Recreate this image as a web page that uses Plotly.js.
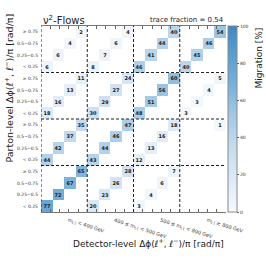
<!DOCTYPE html>
<html><head><meta charset="utf-8">
<script src="https://cdn.plot.ly/plotly-3.0.1.min.js"></script>
<style>html,body{margin:0;padding:0;background:#fff}#chart{width:266px;height:266px}</style>
</head><body><div id="chart"></div>
<script>
// Mass bins (blocks) and Δφ/π bins (within each block)
const massBins = ["m<sub>t t\u0304</sub> < 400 GeV", "400 ≤ m<sub>t t\u0304</sub> < 500 GeV", "500 ≤ m<sub>t t\u0304</sub> < 800 GeV", "m<sub>t t\u0304</sub> ≥ 800 GeV"];
const dphiBins = ["< 0.25", "0.25−0.5", "0.5−0.75", "≥ 0.75"];

// Migration [%]: parton-level mass block -> detector-level mass block -> Δφ bin (diagonal in Δφ)
const migPartonM400 = [[77, 72, 67, 65], [20, 23, 26, 28], [3, 4, 6, 7], [0, 0, 0, 0]];
const migPartonM400_500 = [[44, 42, 37, 35], [43, 44, 46, 47], [12, 13, 16, 18], [0, 0, 0, 1]];
const migPartonM500_800 = [[18, 16, 13, 11], [30, 29, 27, 24], [48, 51, 56, 60], [3, 3, 4, 5]];
const migPartonM800 = [[6, 6, 4, 2], [8, 7, 6, 4], [46, 41, 44, 40], [40, 45, 46, 54]];
const traceFraction = 0.54;

const mig = [migPartonM400, migPartonM400_500, migPartonM500_800, migPartonM800];
const nM = massBins.length, nD = dphiBins.length, N = nM * nD;
const z = [], txt = [];
for (let r = 0; r < N; r++) { z.push(new Array(N).fill(null)); txt.push(new Array(N).fill("")); }
for (let pm = 0; pm < nM; pm++) {
  for (let dm = 0; dm < nM; dm++) {
    for (let d = 0; d < nD; d++) {
      const v = mig[pm][dm][d];
      if (v > 0) {
        z[pm * nD + d][dm * nD + d] = v;
        txt[pm * nD + d][dm * nD + d] = String(v);
      }
    }
  }
}
const idx = Array.from({length: N}, (_, i) => i);
const yTickText = idx.map(i => dphiBins[i % nD]);

const colorscale = [
  [0.0, "#f5f9fd"], [0.17, "#deebf7"], [0.35, "#c6dbef"], [0.52, "#a2c9e4"],
  [0.7, "#74afd9"], [0.87, "#559cd0"], [1.0, "#3f86c2"]
];

const minorTicks = [];
for (let b = 0; b < nM; b++) for (let k = 1; k <= 4; k++) minorTicks.push(-0.5 + b * nD + 0.8 * k);

const dashLine = {color: "#222", width: 1, dash: "3px,2px"};
const shapes = [];
for (let b = 0; b < nM; b++) {
  const p = -0.5 + b * nD;
  shapes.push({type: "line", xref: "x", yref: "paper", x0: p, x1: p, y0: 0, y1: 1, line: dashLine});
  if (b > 0) shapes.push({type: "line", xref: "paper", yref: "y", x0: 0, x1: 1, y0: p, y1: p, line: dashLine});
}

const annotations = [
  {text: "ν<sup>2</sup>-Flows", xref: "paper", yref: "paper", x: 0, y: 1.032, xanchor: "left", yanchor: "middle", showarrow: false, font: {size: 10, color: "#222"}},
  {text: "trace fraction = " + traceFraction.toFixed(2), xref: "paper", yref: "paper", x: 1, y: 1.032, xanchor: "right", yanchor: "middle", showarrow: false, font: {size: 7, color: "#222"}},
  {text: "Detector-level Δϕ(ℓ<sup>+</sup>, ℓ<sup>−</sup>)/π [rad/π]", xref: "paper", yref: "paper", x: 1, y: -0.167, xanchor: "right", yanchor: "middle", showarrow: false, font: {size: 9, color: "#222"}},
  {text: "Parton-level Δϕ(ℓ<sup>+</sup>, ℓ<sup>−</sup>)/π [rad/π]", xref: "paper", yref: "paper", x: -0.178, y: 1.075, xanchor: "center", yanchor: "top", textangle: -90, showarrow: false, font: {size: 9.5, color: "#222"}},
  {text: "Migration [%]", xref: "paper", yref: "paper", x: 1.173, y: 1.0, xanchor: "center", yanchor: "top", textangle: -90, showarrow: false, font: {size: 9, color: "#222"}}
];
massBins.forEach((m, b) => annotations.push({
  text: m, xref: "x", yref: "paper", x: b * nD + 1.5, y: -0.011, xanchor: "left", yanchor: "top",
  textangle: 18, showarrow: false, font: {size: 5, color: "#333"}
}));

const trace = {
  type: "heatmap", x: idx, y: idx, z: z, text: txt, texttemplate: "%{text}",
  textfont: {size: 5, color: "#1a1a1a", weight: "bold"},
  zmin: 0, zmax: 100, colorscale: colorscale, hoverongaps: false,
  colorbar: {x: 1.011, xanchor: "left", xpad: 0, ypad: 0, thickness: 9, len: 1, y: 0.5, yanchor: "middle",
    outlinecolor: "#888", outlinewidth: 1, tickvals: [0, 20, 40, 60, 80, 100], ticks: "outside", ticklen: 2,
    tickcolor: "#555", tickfont: {size: 4.5, color: "#333"}}
};

const layout = {
  width: 266, height: 266, margin: {l: 41, r: 40, t: 26, b: 54},
  paper_bgcolor: "#fff", plot_bgcolor: "#fff", showlegend: false,
  xaxis: {range: [-0.5, N - 0.5], tickvals: minorTicks, ticks: "inside", ticklen: 3, tickcolor: "#666",
    showticklabels: false, showgrid: false, zeroline: false, showline: true, linecolor: "#777", linewidth: 1, mirror: "allticks"},
  yaxis: {range: [-0.5, N - 0.5], tickvals: idx, ticktext: yTickText, ticks: "", showgrid: false, zeroline: false,
    showline: false, tickfont: {size: 4.5, color: "#333"}, ticklabelstandoff: 2},
  shapes: shapes, annotations: annotations,
  font: {family: "DejaVu Sans, sans-serif"}
};

Plotly.newPlot("chart", [trace], layout, {displayModeBar: false, staticPlot: true});
</script></body></html>
